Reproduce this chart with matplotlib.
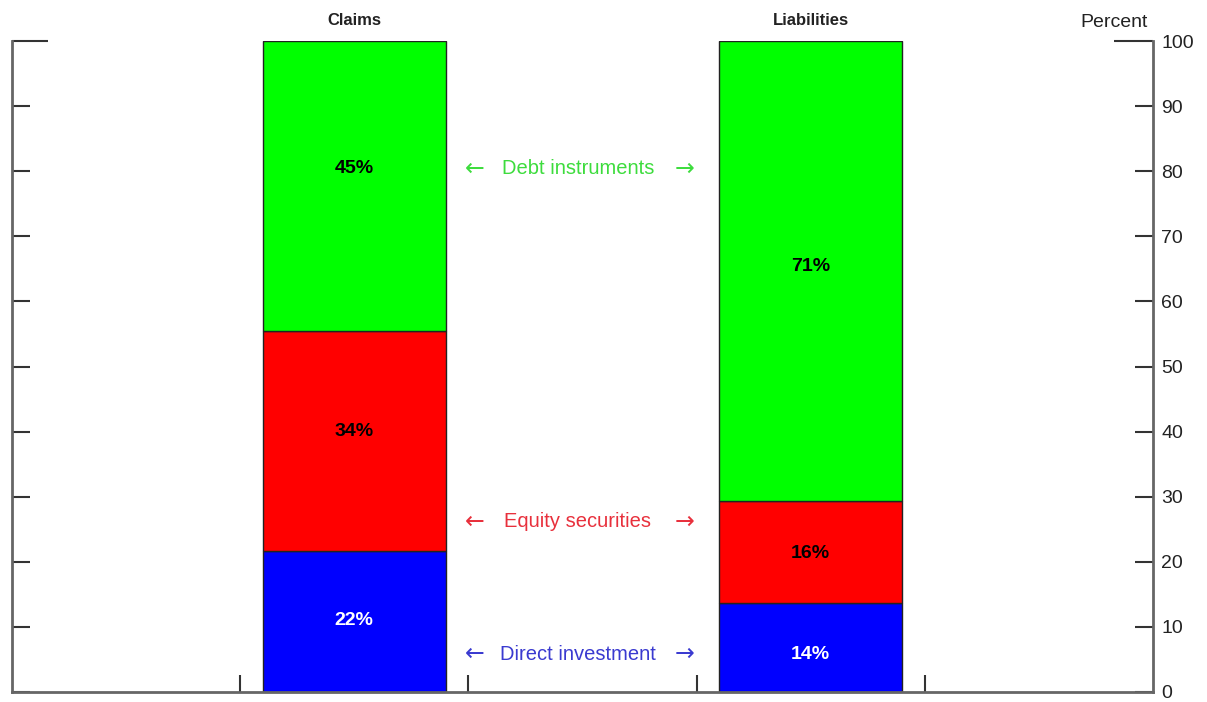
import matplotlib
matplotlib.use("Agg")
import matplotlib.pyplot as plt

plt.rcParams['font.family'] = ['Liberation Sans', 'DejaVu Sans']

# shares of each component, percent
groups = ['Claims', 'Liabilities']
direct = [21.7, 13.6]
equity = [33.7, 15.7]
debt = [44.6, 70.7]

series_names = ['Direct investment', 'Equity securities', 'Debt instruments']
bar_colors = ['#0000ff', '#ff0000', '#00ff00']
label_colors = ['#3a3ad0', '#e8303c', '#3ddc3d']
value_text_colors = ['white', 'black', 'black']

# where the value labels and the side notes sit (y in percent units)
value_label_y = [[11.0, 40.0, 80.4], [5.8, 21.2, 65.3]]
note_y = [5.8, 26.2, 80.4]

xpos = [1.5, 3.5]

fig = plt.figure(figsize=(12.07, 7.02), dpi=100)
ax = fig.add_axes([12 / 1207, 10 / 702, 1141 / 1207, 651 / 702])

bottoms = [0, 0]
for i, (vals, col, tcol) in enumerate(zip([direct, equity, debt], bar_colors, value_text_colors)):
    ax.bar(xpos, vals, width=0.8, bottom=bottoms, color=col,
           edgecolor='#222222', linewidth=1)
    for j, (x, v) in enumerate(zip(xpos, vals)):
        ax.text(x, value_label_y[j][i], f"{round(v)}%", ha='center', va='center',
                fontsize=14, fontweight='bold', color=tcol)
    bottoms = [b + v for b, v in zip(bottoms, vals)]

for name, col, y in zip(series_names, label_colors, note_y):
    ax.text(2.48, y, name, ha='center', va='center', fontsize=14.5, color=col)
    ax.text(2.03, y, "\u2190", ha='center', va='center', fontsize=17,
            color=col, family='DejaVu Sans')
    ax.text(2.945, y, "\u2192", ha='center', va='center', fontsize=17,
            color=col, family='DejaVu Sans')

for x, g in zip(xpos, groups):
    ax.text(x, 102.0, g, ha='center', va='bottom', fontsize=12,
            fontweight='bold', color='#222222')

ax.text(0.966, 1.016, 'Percent', transform=ax.transAxes, ha='center',
        va='bottom', fontsize=14, color='#222222')

ax.set_xlim(0, 5)
ax.set_ylim(0, 100)
ax.set_xticks([1, 2, 3, 4])
ax.set_yticks(range(0, 101, 10))
ax.tick_params(axis='x', direction='in', length=12, width=1.5,
               color='#333333', labelbottom=False)
ax.tick_params(axis='y', direction='in', length=13, width=1.5,
               color='#333333', left=True, right=True,
               labelleft=False, labelright=True, labelsize=14,
               labelcolor='#222222', pad=6)

# the 100 tick is drawn longer on both sides
top_tick = ax.yaxis.get_major_ticks()[-1]
top_tick.tick1line.set_markersize(26)
top_tick.tick2line.set_markersize(28)

ax.spines['top'].set_visible(False)
for side in ['left', 'right', 'bottom']:
    ax.spines[side].set_color('#666666')
    ax.spines[side].set_linewidth(2)

fig.savefig('out.png', dpi=100)
